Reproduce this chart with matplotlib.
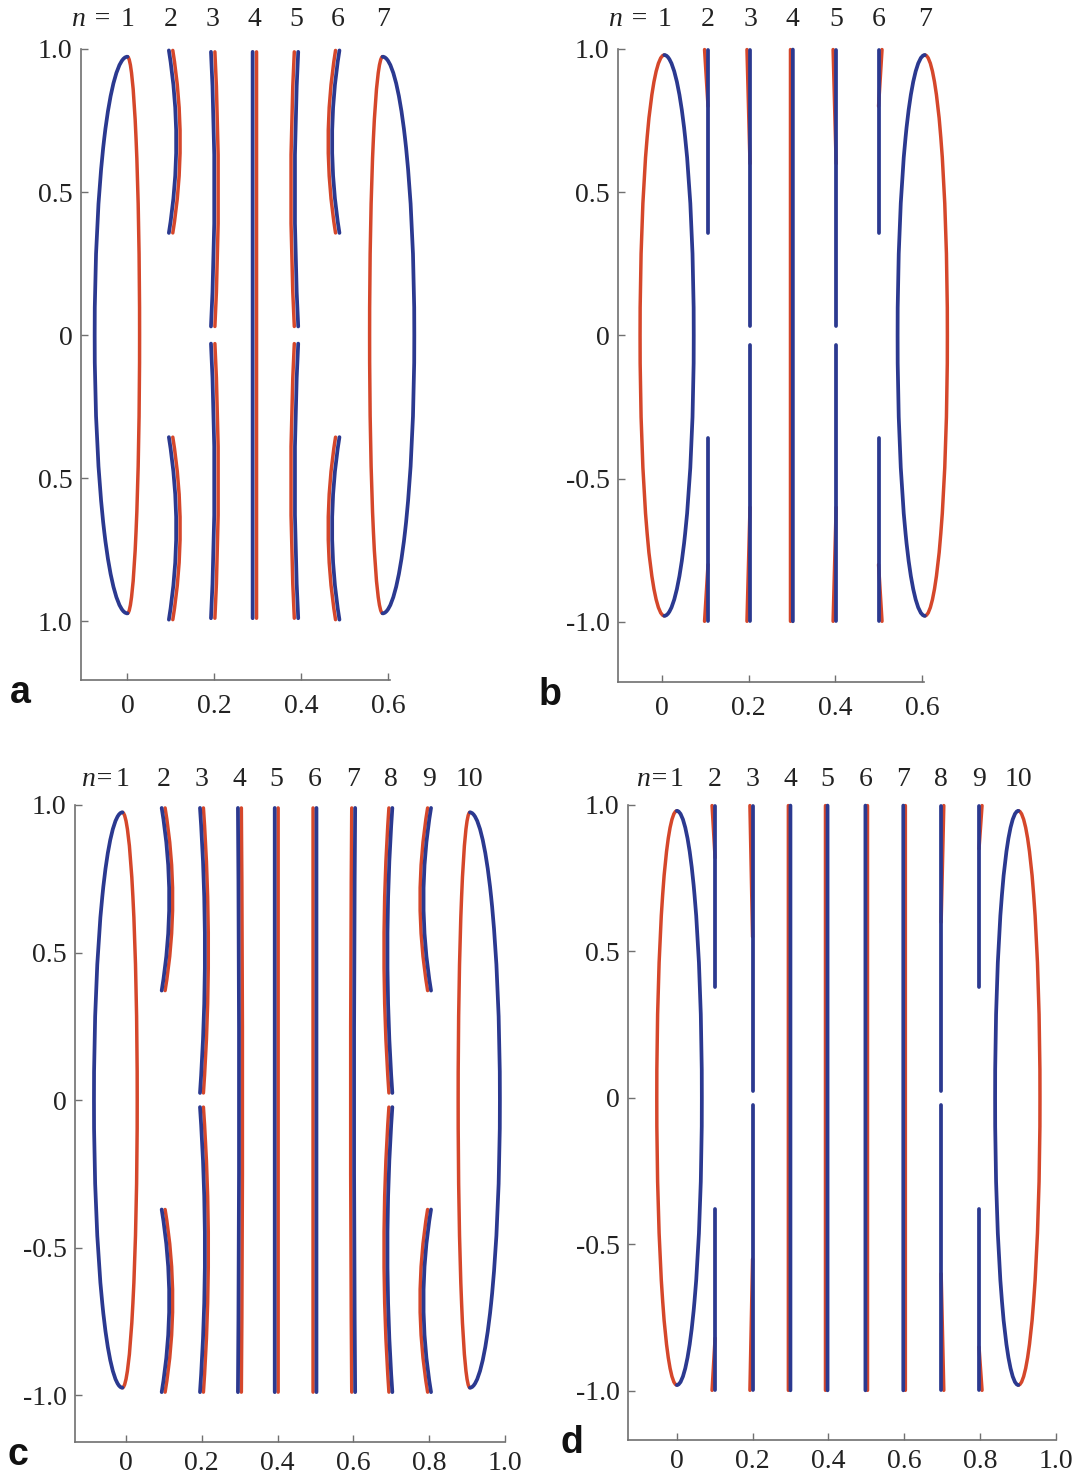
import matplotlib
matplotlib.use('Agg')
import matplotlib.pyplot as plt
from matplotlib.patches import Arc, PathPatch
from matplotlib.path import Path

plt.rcParams['font.family'] = ['Liberation Serif', 'DejaVu Serif']

BLUE = '#2B3990'
RED = '#D5472B'
COLORS = {'blue': BLUE, 'red': RED}

# ---------------- data ----------------
# panel a
A_LABELS = ['1', '2', '3', '4', '5', '6', '7']
A_X = [0.000, 0.100, 0.197, 0.293, 0.389, 0.484, 0.588]
A_APEX = [0.973, 0.995, 0.99, 0.99, 0.99, 0.995, 0.973]
A_SPLIT = [0, 0.357, 0.03, 0, 0.03, 0.357, 0]
A_BULGE = [0, 0.017, 0.008, 0, -0.008, -0.017, 0]
A_WL = [0.0755, 0.0045, 0.0045, 0.0045, 0.0045, 0.0045, 0.030]
A_WR = [0.028, 0.0045, 0.0045, 0.0045, 0.0045, 0.0045, 0.073]
A_LEFT = ['blue', 'blue', 'blue', 'blue', 'red', 'red', 'red']
A_MERGE = [0, 0, 0, 0, 0, 0, 0]
A_XTICKS = [0, 0.2, 0.4, 0.6]
A_XTL = ['0', '0.2', '0.4', '0.6']
A_YTL = ['1.0', '0.5', '0', '0.5', '1.0']

# panel b
B_LABELS = ['1', '2', '3', '4', '5', '6', '7']
B_X = [0.005, 0.106, 0.203, 0.302, 0.402, 0.500, 0.607]
B_APEX = [0.979, 0.998, 0.998, 0.998, 0.998, 0.998, 0.979]
B_SPLIT = [0, 0.358, 0.033, 0, 0.033, 0.358, 0]
B_BULGE = [0, 0, 0, 0, 0, 0, 0]
B_WL = [0.056, 0.008, 0.007, 0.0055, 0.007, 0.0, 0.063]
B_WR = [0.068, 0.0, 0.0, 0.0, 0.0, 0.008, 0.052]
B_LEFT = ['red', 'red', 'red', 'red', 'red', 'blue', 'blue']
B_MERGE = [0, 0.80, 0.60, 0, 0.60, 0.80, 0]
B_XTICKS = [0, 0.2, 0.4, 0.6]
B_XTL = ['0', '0.2', '0.4', '0.6']
B_YTL = ['1.0', '0.5', '0', '-0.5', '-1.0']

# panel c
C_LABELS = ['1', '2', '3', '4', '5', '6', '7', '8', '9', '10']
C_X = [-0.009, 0.099, 0.200, 0.300, 0.397, 0.498, 0.600, 0.698, 0.800, 0.907]
C_APEX = [0.975, 0.99, 0.99, 0.99, 0.99, 0.99, 0.99, 0.99, 0.99, 0.975]
C_SPLIT = [0, 0.371, 0.024, 0, 0, 0, 0, 0.024, 0.371, 0]
C_BULGE = [0, 0.020, 0.013, 0.003, 0, 0, -0.003, -0.013, -0.020, 0]
C_WL = [0.075, 0.0045, 0.0045, 0.0045, 0.0045, 0.0045, 0.0045, 0.0045, 0.0045, 0.031]
C_WR = [0.039, 0.0045, 0.0045, 0.0045, 0.0045, 0.0045, 0.0045, 0.0045, 0.0045, 0.079]
C_LEFT = ['blue'] * 5 + ['red'] * 5
C_MERGE = [0] * 10
C_XTICKS = [0, 0.2, 0.4, 0.6, 0.8, 1.0]
C_XTL = ['0', '0.2', '0.4', '0.6', '0.8', '1.0']
C_YTL = ['1.0', '0.5', '0', '-0.5', '-1.0']

# panel d
D_LABELS = ['1', '2', '3', '4', '5', '6', '7', '8', '9', '10']
D_X = [0.000, 0.101, 0.200, 0.300, 0.398, 0.498, 0.598, 0.698, 0.798, 0.902]
D_APEX = [0.98, 0.998, 0.998, 0.998, 0.998, 0.998, 0.998, 0.998, 0.998, 0.98]
D_SPLIT = [0, 0.379, 0.024, 0, 0, 0, 0, 0.024, 0.379, 0]
D_BULGE = [0] * 10
D_WL = [0.053, 0.008, 0.007, 0.0055, 0.0055, 0.0, 0.0, 0.0, 0.0, 0.0615]
D_WR = [0.066, 0.0, 0.0, 0.0, 0.0, 0.0055, 0.0055, 0.007, 0.008, 0.057]
D_LEFT = ['red'] * 5 + ['blue'] * 5
D_MERGE = [0, 0.82, 0.55, 0, 0, 0, 0, 0.60, 0.85, 0]
D_XTICKS = [0, 0.2, 0.4, 0.6, 0.8, 1.0]
D_XTL = ['0', '0.2', '0.4', '0.6', '0.8', '1.0']
D_YTL = ['1.0', '0.5', '0', '-0.5', '-1.0']

YTICKS = [1.0, 0.5, 0, -0.5, -1.0]

# ---------------- drawing ----------------
LW = {'blue': 2.7, 'red': 2.5}
ZO = {'blue': 3, 'red': 2}


def add_curve(ax, verts, color):
    codes = [Path.MOVETO] + [Path.CURVE3] * (len(verts) - 1)
    ax.add_patch(PathPatch(Path(verts, codes), fill=False, edgecolor=COLORS[color],
                           lw=LW[color], capstyle='round', clip_on=False,
                           zorder=ZO[color]))


def add_line(ax, p0, p1, color):
    ax.add_patch(PathPatch(Path([p0, p1], [Path.MOVETO, Path.LINETO]), fill=False,
                           edgecolor=COLORS[color], lw=LW[color], capstyle='round',
                           clip_on=False, zorder=ZO[color]))


def draw_panel(ax, xs, apex, split, bulge, wl, wr, left, merge):
    n = len(xs)
    for i in range(n):
        x0 = xs[i]
        lc = left[i]
        rc = 'red' if lc == 'blue' else 'blue'
        if i == 0 or i == n - 1:
            for c, w, t1, t2 in ((lc, wl[i], 90, 270), (rc, wr[i], -90, 90)):
                ax.add_patch(Arc((x0, 0), 2 * w, 2 * apex[i], theta1=t1, theta2=t2,
                                 edgecolor=COLORS[c], lw=LW[c], clip_on=False,
                                 zorder=ZO[c], capstyle='round'))
            continue
        if split[i] == 0:
            segs = [(apex[i], -apex[i])]
        else:
            segs = [(apex[i], split[i]), (-split[i], -apex[i])]
        xl = x0 - wl[i]
        xr = x0 + wr[i]
        if merge[i] == 0:
            for (ya, yb) in segs:
                ym = 0.5 * (ya + yb)
                add_curve(ax, [(xl, ya), (xl + 2 * bulge[i], ym), (xl, yb)], lc)
                add_curve(ax, [(xr, ya), (xr + 2 * bulge[i], ym), (xr, yb)], rc)
        else:
            # blue runs the full length, red splits off only near the ends
            xb, xred = (xr, xl) if lc == 'red' else (xl, xr)
            for (ya, yb) in segs:
                add_line(ax, (xb, ya), (xb, yb), 'blue')
            add_line(ax, (xred, apex[i]), (xb, merge[i]), 'red')
            add_line(ax, (xred, -apex[i]), (xb, -merge[i]), 'red')


fig = plt.figure(figsize=(10.78, 14.77), dpi=100)

panels = [
    dict(rect=[81 / 1078, 1 - 680 / 1477, 309 / 1078, 631 / 1477], xlim=(-0.107, 0.605),
         ylim=(-1.206, 1.0), X=A_X, APEX=A_APEX, SPLIT=A_SPLIT, BULGE=A_BULGE, WL=A_WL,
         WR=A_WR, LEFT=A_LEFT, MERGE=A_MERGE, LAB=A_LABELS, XT=A_XTICKS, XTL=A_XTL,
         YTL=A_YTL, top=21, ntxt='n = ', letter='a', lpos=(20, 693), xpad=10),
    dict(rect=[618 / 1078, 1 - 682 / 1477, 306 / 1078, 633 / 1477], xlim=(-0.102, 0.605),
         ylim=(-1.21, 1.0), X=B_X, APEX=B_APEX, SPLIT=B_SPLIT, BULGE=B_BULGE, WL=B_WL,
         WR=B_WR, LEFT=B_LEFT, MERGE=B_MERGE, LAB=B_LABELS, XT=B_XTICKS, XTL=B_XTL,
         YTL=B_YTL, top=21, ntxt='n = ', letter='b', lpos=(550, 695), xpad=10),
    dict(rect=[75 / 1078, 1 - 1441.7 / 1477, 430.2 / 1078, 636.7 / 1477], xlim=(-0.134, 1.0),
         ylim=(-1.158, 1.0), X=C_X, APEX=C_APEX, SPLIT=C_SPLIT, BULGE=C_BULGE, WL=C_WL,
         WR=C_WR, LEFT=C_LEFT, MERGE=C_MERGE, LAB=C_LABELS, XT=C_XTICKS, XTL=C_XTL,
         YTL=C_YTL, top=18, ntxt='n=', letter='c', lpos=(18, 1455), xpad=6.5),
    dict(rect=[628 / 1078, 1 - 1440.4 / 1477, 427.5 / 1078, 635.4 / 1477], xlim=(-0.129, 1.0),
         ylim=(-1.169, 1.0), X=D_X, APEX=D_APEX, SPLIT=D_SPLIT, BULGE=D_BULGE, WL=D_WL,
         WR=D_WR, LEFT=D_LEFT, MERGE=D_MERGE, LAB=D_LABELS, XT=D_XTICKS, XTL=D_XTL,
         YTL=D_YTL, top=18, ntxt='n=', letter='d', lpos=(572, 1443), xpad=6.5),
]

for p in panels:
    ax = fig.add_axes(p['rect'])
    ax.set_xlim(*p['xlim'])
    ax.set_ylim(*p['ylim'])
    for s in ('top', 'right'):
        ax.spines[s].set_visible(False)
    for s in ('left', 'bottom'):
        ax.spines[s].set_color('#707070')
        ax.spines[s].set_linewidth(1.2)
    ax.set_xticks(p['XT'])
    ax.set_xticklabels(p['XTL'])
    ax.set_yticks(YTICKS)
    ax.set_yticklabels(p['YTL'])
    ax.tick_params(direction='in', length=5, width=1.0, color='#707070',
                   labelsize=20, labelcolor='#222222')
    ax.tick_params(axis='x', pad=p['xpad'])
    ax.tick_params(axis='y', pad=6)
    draw_panel(ax, p['X'], p['APEX'], p['SPLIT'], p['BULGE'], p['WL'], p['WR'],
               p['LEFT'], p['MERGE'])
    for j, lab in enumerate(p['LAB']):
        ax.annotate(lab, xy=(p['X'][j], 1.0), xycoords=('data', 'axes fraction'),
                    xytext=(0, p['top']), textcoords='offset points',
                    ha='center', va='center', fontsize=20, color='#222222')
    ax.annotate(p['ntxt'], xy=(p['X'][0], 1.0), xycoords=('data', 'axes fraction'),
                xytext=(-6, p['top']), textcoords='offset points',
                ha='right', va='center', fontsize=20, style='italic', color='#222222')
    fig.text(p['lpos'][0] / 1078, 1 - p['lpos'][1] / 1477, p['letter'],
             family='Liberation Sans', weight='bold', fontsize=27,
             ha='center', va='center', color='#111111')

fig.savefig('out.png', dpi=100)
